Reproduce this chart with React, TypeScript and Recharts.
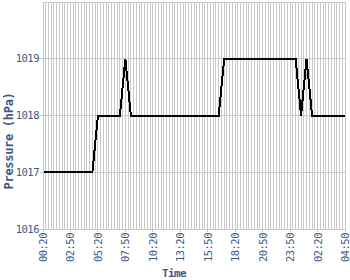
import { LineChart, Line, XAxis, YAxis, CartesianGrid } from "recharts";

// x tick labels, one every 10 samples
const tickLabels = [
  "00:20", "02:50", "05:20", "07:50", "10:20", "13:20",
  "15:50", "18:20", "20:50", "23:50", "02:20", "04:50",
];

// pressure readings (hPa), 111 samples
const pressure = [
  1017, 1017, 1017, 1017, 1017, 1017, 1017, 1017, 1017, 1017,
  1017, 1017, 1017, 1017, 1017, 1017, 1017, 1017, 1017, 1017.5,
  1018, 1018, 1018, 1018, 1018, 1018, 1018, 1018, 1018, 1018.5,
  1019, 1018.5, 1018, 1018, 1018, 1018, 1018, 1018, 1018, 1018,
  1018, 1018, 1018, 1018, 1018, 1018, 1018, 1018, 1018, 1018,
  1018, 1018, 1018, 1018, 1018, 1018, 1018, 1018, 1018, 1018,
  1018, 1018, 1018, 1018, 1018, 1018.5, 1019, 1019, 1019, 1019,
  1019, 1019, 1019, 1019, 1019, 1019, 1019, 1019, 1019, 1019,
  1019, 1019, 1019, 1019, 1019, 1019, 1019, 1019, 1019, 1019,
  1019, 1019, 1019, 1018.5, 1018, 1018.5, 1019, 1018.5, 1018, 1018,
  1018, 1018, 1018, 1018, 1018, 1018, 1018, 1018, 1018, 1018,
  1018,
];

const yTicks = [1016, 1017, 1018, 1019];

const data = pressure.map((p, i) => ({ idx: i, pressure: p }));

const TEXT = "#3b5b86";
const GRID = "#c8c8c8";
const MONO = "'DejaVu Sans Mono', monospace";

const XTick = ({ x, y, payload }: any) => (
  <text
    transform={`translate(${x},${y}) rotate(-90)`}
    textAnchor="end"
    dominantBaseline="central"
    fill={TEXT}
    fontFamily={MONO}
    fontSize={10.5}
    letterSpacing={-0.5}
  >
    {tickLabels[payload.value / 10] ?? ""}
  </text>
);

const gridX = ({ xAxis, offset }: any) => {
  const s = xAxis?.scale;
  if (typeof s === "function") return data.map((d) => s(d.idx));
  return data.map(
    (_, i) => offset.left + (i * offset.width) / (data.length - 1)
  );
};

const timeLabel = () => (
  <text
    x={174}
    y={277}
    textAnchor="middle"
    fill={TEXT}
    fontFamily={MONO}
    fontWeight="bold"
    fontSize={11}
    letterSpacing={-0.6}
  >
    Time
  </text>
);

const pressureLabel = () => (
  <text
    transform="translate(9,141) rotate(-90)"
    textAnchor="middle"
    dominantBaseline="central"
    fill={TEXT}
    fontFamily={MONO}
    fontWeight="bold"
    fontSize={12}
    letterSpacing={-0.3}
  >
    Pressure (hPa)
  </text>
);

export default function App() {
  return (
    <div
      style={{
        position: "absolute",
        left: 0,
        top: 0,
        width: 350,
        height: 280,
        background: "#fff",
        shapeRendering: "crispEdges",
      }}
    >
      <LineChart
        width={350}
        height={280}
        data={data}
        margin={{ top: 2, right: 5, left: 0, bottom: 0 }}
      >
        <CartesianGrid
          stroke={GRID}
          verticalCoordinatesGenerator={gridX}
          syncWithTicks={false}
        />
        <XAxis
          dataKey="idx"
          type="category"
          interval={9}
          height={51}
          tickSize={3}
          tickMargin={1}
          axisLine={{ stroke: GRID }}
          tickLine={{ stroke: GRID }}
          tick={<XTick />}
          label={{ value: "Time", content: timeLabel }}
        />
        <YAxis
          domain={[1016, 1020]}
          ticks={yTicks}
          width={43}
          tickSize={3}
          tickMargin={1}
          axisLine={{ stroke: GRID }}
          tickLine={{ stroke: GRID }}
          tick={{
            fill: TEXT,
            fontFamily: MONO,
            fontSize: 10.5,
            letterSpacing: -0.5,
          }}
          label={{ value: "Pressure (hPa)", content: pressureLabel }}
        />
        <Line
          type="linear"
          dataKey="pressure"
          stroke="#000"
          strokeWidth={2}
          dot={false}
          isAnimationActive={false}
        />
      </LineChart>
    </div>
  );
}
